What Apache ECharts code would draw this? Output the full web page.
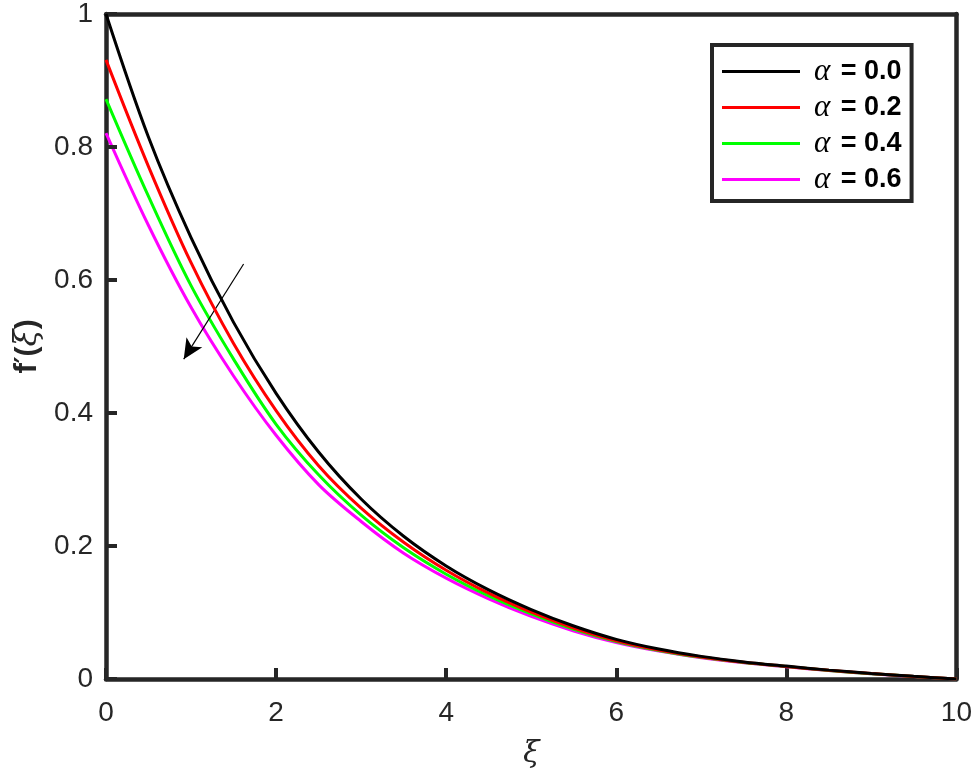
<!DOCTYPE html>
<html>
<head>
<meta charset="utf-8">
<script src="https://cdn.jsdelivr.net/npm/echarts@6/dist/echarts.min.js"></script>
<style>html,body{margin:0;padding:0;background:#fff;}#c{width:975px;height:776px;}</style>
</head>
<body>
<div id="c"></div>
<script>
var xi = [0, 0.5, 1, 1.5, 2, 2.5, 3, 3.5, 4, 4.5, 5, 5.5, 6, 6.5, 7, 7.5, 8, 8.5, 9, 9.5, 10];
var alpha00 = [1.0, 0.8146, 0.6637, 0.5363, 0.4296, 0.3413, 0.2706, 0.2146, 0.1700, 0.1340, 0.1044, 0.0797, 0.0596, 0.0450, 0.0340, 0.0257, 0.0194, 0.01335, 0.00835, 0.0040, 0];
var alpha02 = [0.931, 0.7706, 0.626, 0.5046, 0.4037, 0.3208, 0.257, 0.2057, 0.1636, 0.1290, 0.1004, 0.0767, 0.0576, 0.0437, 0.0331, 0.0251, 0.0189, 0.0130, 0.0081, 0.0039, 0];
var alpha04 = [0.872, 0.7256, 0.5915, 0.481, 0.383, 0.307, 0.2464, 0.1973, 0.1576, 0.1249, 0.0978, 0.0747, 0.0564, 0.0428, 0.0325, 0.0247, 0.0186, 0.0128, 0.0080, 0.0038, 0];
var alpha06 = [0.821, 0.682, 0.559, 0.4557, 0.3665, 0.2923, 0.2369, 0.1892, 0.1517, 0.1206, 0.0941, 0.0722, 0.0548, 0.0419, 0.0320, 0.0243, 0.0183, 0.0126, 0.0079, 0.0038, 0];
var seriesNames = ['α = 0.0', 'α = 0.2', 'α = 0.4', 'α = 0.6'];
var seriesColors = ['#000000', '#ff0000', '#00ff00', '#ff00ff'];
var xTicks = [0, 2, 4, 6, 8, 10];
var yTicks = [0, 0.2, 0.4, 0.6, 0.8, 1];
var arrowStart = [1.618, 0.624];
var arrowEnd = [0.914, 0.481];

function pairs(ys) { return xi.map(function (x, i) { return [x, ys[i]]; }); }
var allData = [alpha00, alpha02, alpha04, alpha06];
var AX = '#262626';

var chart = echarts.init(document.getElementById('c'));

var series = allData.map(function (d, i) {
  var s = {
    name: seriesNames[i],
    type: 'line',
    data: pairs(d),
    smooth: 0.35,
    symbol: 'none',
    showSymbol: false,
    lineStyle: { color: seriesColors[i], width: 3 },
    itemStyle: { color: seriesColors[i] },
    z: 3 + (3 - i)
  };
  if (i === 0) {
    s.markLine = {
      silent: true,
      symbol: ['none', 'arrow'],
      symbolSize: [14, 20],
      label: { show: false },
      lineStyle: { color: '#000', width: 1.2, type: 'solid' },
      emphasis: { disabled: true },
      data: [[{ coord: arrowStart }, { coord: arrowEnd }]]
    };
  }
  return s;
});

var plainAxis = {
  axisLine: { show: true, onZero: false, lineStyle: { color: AX, width: 4.5 } },
  axisTick: { show: false },
  axisLabel: { show: false },
  splitLine: { show: false }
};

chart.setOption({
  animation: false,
  backgroundColor: '#fff',
  grid: { left: 106, right: 15, top: 14, bottom: 97 },
  legend: {
    orient: 'vertical',
    left: 712, top: 45,
    padding: [11, 10, 6, 10],
    backgroundColor: '#fff',
    borderColor: AX,
    borderWidth: 4,
    borderRadius: 0,
    itemWidth: 78,
    itemHeight: 3,
    itemGap: 5,
    data: seriesNames.map(function (n) { return { name: n, icon: 'rect' }; }),
    formatter: function (n) { return '{a|α}{b|' + n.slice(1) + '}'; },
    textStyle: {
      rich: {
        a: { fontFamily: 'Liberation Serif', fontStyle: 'italic', fontSize: 31, color: '#000', padding: [0, 3, 0, 9], lineHeight: 28 },
        b: { fontFamily: 'Liberation Sans', fontWeight: 'bold', fontSize: 27, color: '#000', lineHeight: 28 }
      }
    }
  },
  xAxis: [{
    type: 'value', min: 0, max: 10, interval: 2,
    name: 'ξ', nameLocation: 'middle', nameGap: 60,
    nameTextStyle: { fontFamily: 'DejaVu Serif', fontStyle: 'italic', fontSize: 30, color: AX },
    axisLine: { show: true, onZero: false, lineStyle: { color: AX, width: 4.5 } },
    axisTick: { show: true, inside: false, length: -11, lineStyle: { color: AX, width: 4 } },
    axisLabel: { fontFamily: 'Liberation Sans', fontSize: 28, color: AX, margin: 20,
      formatter: function (v) { return xTicks.indexOf(v) >= 0 ? String(v) : ''; } },
    splitLine: { show: false }
  }, Object.assign({ type: 'value', min: 0, max: 10, position: 'top' }, plainAxis)],
  yAxis: [{
    type: 'value', min: 0, max: 1, interval: 0.2,
    name: '{f|f}{p|′}{q|(}{x|ξ}{q|)}', nameLocation: 'middle', nameGap: 50, nameRotate: 90,
    nameTextStyle: {
      rich: {
        f: { fontFamily: 'Liberation Sans', fontWeight: 'bold', fontSize: 31, color: AX },
        p: { fontFamily: 'DejaVu Sans', fontWeight: 'bold', fontSize: 26, color: AX },
        q: { fontFamily: 'Liberation Sans', fontWeight: 'bold', fontSize: 30, color: AX },
        x: { fontFamily: 'DejaVu Serif', fontStyle: 'italic', fontSize: 31, color: AX }
      }
    },
    axisLine: { show: true, onZero: false, lineStyle: { color: AX, width: 4.5 } },
    axisTick: { show: true, inside: false, length: -11, lineStyle: { color: AX, width: 4 } },
    axisLabel: { fontFamily: 'Liberation Sans', fontSize: 28, color: AX, margin: 13,
      formatter: function (v) { var r = Math.round(v * 10) / 10; return yTicks.indexOf(r) >= 0 ? String(r) : ''; } },
    splitLine: { show: false }
  }, Object.assign({ type: 'value', min: 0, max: 1, position: 'right' }, plainAxis)],
  series: series
});

// y-axis ticks placed through the chart's own scale
var tickGraphics = yTicks.filter(function (t) { return t > 0 && t < 1; }).map(function (t) {
  var p = chart.convertToPixel({ xAxisIndex: 0, yAxisIndex: 0 }, [0, t]);
  return {
    type: 'line', z: 100, silent: true,
    shape: { x1: p[0], y1: p[1], x2: p[0] + 11, y2: p[1] },
    style: { stroke: AX, lineWidth: 4 }
  };
});
chart.setOption({ graphic: tickGraphics });
</script>
</body>
</html>
